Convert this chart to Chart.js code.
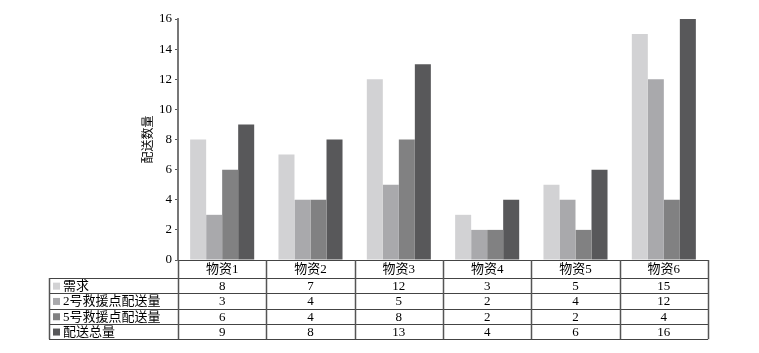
<!DOCTYPE html>
<html>
<head>
<meta charset="utf-8">
<script src="https://cdn.jsdelivr.net/npm/chart.js@4/dist/chart.umd.min.js"></script>
<style>
  html, body { margin: 0; padding: 0; background: #fff; }
  canvas { display: block; }
</style>
</head>
<body>
<canvas id="chart" width="759" height="353"></canvas>
<script>
// 数据
const categories = ["物资1", "物资2", "物资3", "物资4", "物资5", "物资6"];
const seriesNames = ["需求", "2号救援点配送量", "5号救援点配送量", "配送总量"];
const demand = [8, 7, 12, 3, 5, 15];
const station2 = [3, 4, 5, 2, 4, 12];
const station5 = [6, 4, 8, 2, 2, 4];
const total = [9, 8, 13, 4, 6, 16];
const yMax = 16;
const yStep = 2;

const seriesValues = [demand, station2, station5, total];
const colors = ["#d2d2d4", "#a9a9ac", "#818182", "#58585a"];
const FONT = '"Liberation Serif", "Noto Sans CJK SC", serif';

// 表格插件 (数据表画在图下方)
const tablePlugin = {
  id: "dataTable",
  afterDraw(chart) {
    const ctx = chart.ctx;
    const area = chart.chartArea;
    const x = chart.scales.x;
    const colW = (area.right - area.left) / categories.length;
    const headerH = 18;
    const rowH = 15.3;
    const leftX = 49;
    const top = area.bottom;
    const rowsTop = top + headerH;
    const bottom = rowsTop + rowH * seriesNames.length;

    ctx.save();
    ctx.textBaseline = "middle";
    ctx.fillStyle = "#000";
    ctx.font = "13px " + FONT;

    // 表头
    ctx.textAlign = "center";
    categories.forEach((c, i) => {
      ctx.fillText(c, x.getPixelForValue(i), top + headerH / 2 + 1);
    });

    // 数据行
    seriesNames.forEach((name, r) => {
      const cy = rowsTop + rowH * r + rowH / 2 + 1;
      ctx.fillStyle = colors[r];
      ctx.fillRect(leftX + 4, cy - 4, 7, 7);
      ctx.fillStyle = "#000";
      ctx.textAlign = "left";
      ctx.fillText(name, leftX + 14, cy);
      ctx.textAlign = "center";
      seriesValues[r].forEach((v, i) => {
        ctx.fillText(String(v), x.getPixelForValue(i), cy);
      });
    });

    // 横线
    ctx.strokeStyle = "#444";
    ctx.lineWidth = 1.2;
    ctx.beginPath();
    ctx.moveTo(area.left, top + 0.5);
    ctx.lineTo(area.right, top + 0.5);
    for (let r = 0; r <= seriesNames.length; r++) {
      const y = Math.round(rowsTop + rowH * r) + 0.5;
      ctx.moveTo(leftX, y);
      ctx.lineTo(area.right, y);
    }
    ctx.stroke();

    // 竖线
    ctx.strokeStyle = "#555";
    ctx.lineWidth = 1.5;
    ctx.beginPath();
    ctx.moveTo(leftX + 0.5, rowsTop);
    ctx.lineTo(leftX + 0.5, bottom);
    for (let i = 0; i <= categories.length; i++) {
      const xx = Math.round(area.left + colW * i) + 0.5;
      ctx.moveTo(xx, top);
      ctx.lineTo(xx, bottom);
    }
    ctx.stroke();
    ctx.restore();
  }
};

const ctx = document.getElementById("chart").getContext("2d");
new Chart(ctx, {
  type: "bar",
  data: {
    labels: categories,
    datasets: seriesNames.map((name, i) => ({
      label: name,
      data: seriesValues[i],
      backgroundColor: colors[i],
      borderWidth: 0,
      barPercentage: 1.0,
      categoryPercentage: 0.725
    }))
  },
  options: {
    responsive: false,
    animation: false,
    layout: { padding: { left: 142, right: 51, top: 19, bottom: 93 } },
    plugins: {
      legend: { display: false },
      tooltip: { enabled: false }
    },
    scales: {
      x: { display: false },
      y: {
        min: 0,
        max: yMax,
        afterFit(scale) { scale.width = 36; },
        ticks: {
          stepSize: yStep,
          color: "#000",
          padding: 3,
          font: { family: FONT, size: 13 }
        },
        grid: {
          drawOnChartArea: false,
          drawTicks: true,
          tickLength: 3,
          color: "#555",
          lineWidth: 1
        },
        border: { display: true, color: "#777", width: 2 },
        title: {
          display: true,
          text: "配送数量",
          color: "#000",
          padding: 0,
          font: { family: FONT, size: 12 }
        }
      }
    }
  },
  plugins: [tablePlugin]
});
</script>
</body>
</html>
